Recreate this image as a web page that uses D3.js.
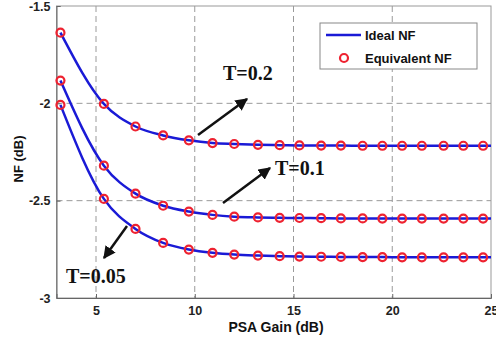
<!DOCTYPE html>
<html><head><meta charset="utf-8">
<script src="https://cdn.jsdelivr.net/npm/d3@7/dist/d3.min.js"></script>
<style>body{margin:0;background:#fff;} svg{display:block;}</style>
</head><body>
<svg id="c" width="496" height="341"></svg>
<script>
const gain = [3.2, 5.4, 7.0, 8.4, 9.7, 10.9, 12.0, 13.2, 14.3, 15.3, 16.4, 17.4, 18.5, 19.5, 20.5, 21.5, 22.6, 23.6, 24.6];
const lineGain = [3.2, 5.4, 7.0, 8.4, 9.7, 10.9, 12.0, 13.2, 14.3, 15.3, 16.4, 17.4, 18.5, 19.5, 20.5, 21.5, 22.6, 23.6, 24.6, 25];
const nfT02 = [-1.637, -2.003, -2.119, -2.165, -2.190, -2.204, -2.209, -2.213, -2.215, -2.216, -2.217, -2.217, -2.218, -2.218, -2.218, -2.218, -2.218, -2.218, -2.218, -2.218];
const nfT01 = [-1.883, -2.320, -2.464, -2.526, -2.556, -2.573, -2.582, -2.586, -2.588, -2.589, -2.590, -2.591, -2.591, -2.592, -2.592, -2.592, -2.592, -2.592, -2.592, -2.592];
const nfT005 = [-2.008, -2.491, -2.645, -2.717, -2.751, -2.768, -2.777, -2.782, -2.785, -2.787, -2.788, -2.789, -2.790, -2.790, -2.791, -2.791, -2.791, -2.791, -2.791, -2.791];
const xTicks = [5, 10, 15, 20, 25];
const yTicks = [-3, -2.5, -2, -1.5];
const yTickLabels = ["-3", "-2.5", "-2", "-1.5"];
const annotations = [
  {label: "T=0.2", tx: 223, ty: 80, x1: 198, y1: 135, x2: 247, y2: 99},
  {label: "T=0.1", tx: 275, ty: 175, x1: 223, y1: 203, x2: 270, y2: 168},
  {label: "T=0.05", tx: 66, ty: 283, x1: 127, y1: 226, x2: 104, y2: 258}
];
const series = [nfT02, nfT01, nfT005];

const svg = d3.select("#c");
const L = 56.5, R = 491, T = 6, B = 298;
const x = d3.scaleLinear().domain([3, 25]).range([L, R]);
const y = d3.scaleLinear().domain([-3, -1.5]).range([B, T]);

// grid
const grid = svg.append("g").attr("stroke", "#9a9a9a").attr("stroke-width", 1).attr("stroke-dasharray", "6,4");
[5, 10, 15, 20].forEach(v => grid.append("line").attr("x1", x(v)).attr("x2", x(v)).attr("y1", T).attr("y2", B));
[-2.5, -2].forEach(v => grid.append("line").attr("x1", L).attr("x2", R).attr("y1", y(v)).attr("y2", y(v)));

// box
svg.append("rect").attr("x", L).attr("y", T).attr("width", R - L).attr("height", B - T)
  .attr("fill", "none").attr("stroke", "#999").attr("stroke-width", 1);

// axes
const xAxis = d3.axisBottom(x).tickValues(xTicks).tickSize(-4).tickPadding(8).tickFormat(d3.format("d"));
const gx = svg.append("g").attr("transform", `translate(0,${B})`).call(xAxis);
const yAxis = d3.axisLeft(y).tickValues(yTicks).tickSize(-4).tickPadding(6).tickFormat((d, i) => yTickLabels[i]);
const gy = svg.append("g").attr("transform", `translate(${L},0)`).call(yAxis);
[gx, gy].forEach(g => {
  g.select(".domain").attr("stroke", "#666");
  g.selectAll(".tick line").attr("stroke", "#666");
  g.selectAll("text").attr("font-family", "Arial, 'Liberation Sans', sans-serif").attr("font-weight", "bold")
    .attr("font-size", 12.5).attr("fill", "#222");
});

// axis labels
svg.append("text").attr("x", 276).attr("y", 332).attr("text-anchor", "middle")
  .attr("font-family", "Arial, 'Liberation Sans', sans-serif").attr("font-weight", "bold").attr("font-size", 14)
  .attr("fill", "#111").text("PSA Gain (dB)");
svg.append("text").attr("transform", "translate(23,159) rotate(-90)").attr("text-anchor", "middle")
  .attr("font-family", "Arial, 'Liberation Sans', sans-serif").attr("font-weight", "bold").attr("font-size", 13)
  .attr("fill", "#111").text("NF (dB)");

// lines
const line = d3.line().x((d, i) => x(lineGain[i])).y(d => y(d)).curve(d3.curveMonotoneX);
series.forEach(s => {
  svg.append("path").attr("d", line(s)).attr("fill", "none").attr("stroke", "#1a1ad6").attr("stroke-width", 2.5);
});
series.forEach(s => {
  svg.append("g").selectAll("circle").data(gain).join("circle")
    .attr("cx", d => x(d)).attr("cy", (d, i) => y(s[i])).attr("r", 4)
    .attr("fill", "none").attr("stroke", "#ee2230").attr("stroke-width", 2.2);
});

// annotations
const defs = svg.append("defs");
defs.append("marker").attr("id", "ah").attr("viewBox", "0 0 10 10").attr("refX", 9).attr("refY", 5)
  .attr("markerWidth", 5).attr("markerHeight", 5).attr("orient", "auto")
  .append("path").attr("d", "M0,0 L10,5 L0,10 z").attr("fill", "#111");
annotations.forEach(a => {
  svg.append("line").attr("x1", a.x1).attr("y1", a.y1).attr("x2", a.x2).attr("y2", a.y2)
    .attr("stroke", "#111").attr("stroke-width", 2.5).attr("marker-end", "url(#ah)");
  svg.append("text").attr("x", a.tx).attr("y", a.ty)
    .attr("font-family", "'Liberation Serif', 'Times New Roman', serif").attr("font-weight", "bold")
    .attr("font-size", 20).attr("fill", "#111").text(a.label);
});

// legend
const lg = svg.append("g");
lg.append("rect").attr("x", 320).attr("y", 23).attr("width", 157).attr("height", 46)
  .attr("fill", "#fff").attr("stroke", "#888").attr("stroke-width", 1);
lg.append("line").attr("x1", 326).attr("x2", 361).attr("y1", 35).attr("y2", 35)
  .attr("stroke", "#1a1ad6").attr("stroke-width", 2.5);
lg.append("circle").attr("cx", 344).attr("cy", 58).attr("r", 4)
  .attr("fill", "none").attr("stroke", "#ee2230").attr("stroke-width", 2.2);
lg.append("text").attr("x", 365).attr("y", 40).text("Ideal NF");
lg.append("text").attr("x", 365).attr("y", 63).text("Equivalent NF");
lg.selectAll("text").attr("font-family", "Arial, 'Liberation Sans', sans-serif").attr("font-weight", "bold")
  .attr("font-size", 13).attr("fill", "#111");
</script>
</body></html>
